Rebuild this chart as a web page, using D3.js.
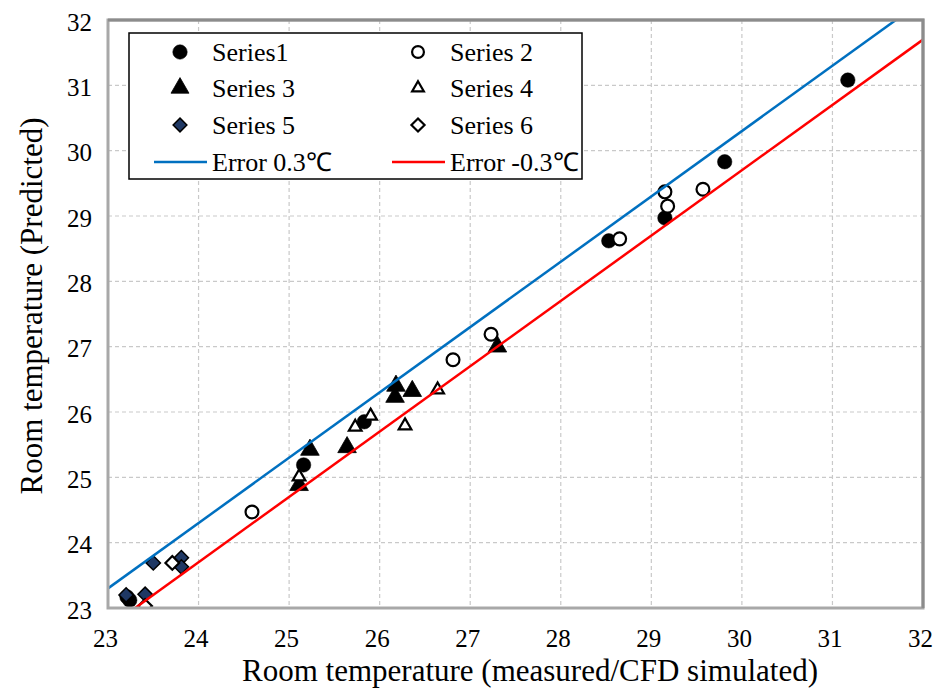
<!DOCTYPE html>
<html><head><meta charset="utf-8">
<script src="https://cdn.jsdelivr.net/npm/d3@7"></script>
<style>body{margin:0;background:#fff;}svg{display:block;font-family:"Liberation Serif","Times New Roman",serif;}</style>
</head><body>
<svg id="chart" width="936" height="689"></svg>
<script>
// ---- data ----
const xTicks = [23,24,25,26,27,28,29,30,31,32];
const yTicks = [23,24,25,26,27,28,29,30,31,32];
const series1 = [[23.21,23.17],[23.24,23.12],[25.16,25.19],[25.83,25.85],[28.53,28.62],[29.15,28.97],[29.81,29.83],[31.17,31.08]];
const series2 = [[24.59,24.47],[26.81,26.80],[27.23,27.19],[28.65,28.65],[29.15,29.37],[29.18,29.15],[29.57,29.41]];
const series3 = [[25.23,25.42],[25.11,24.88],[25.64,25.46],[26.18,26.40],[26.17,26.23],[26.36,26.32],[27.30,27.00]];
const series4 = [[25.11,25.01],[25.73,25.77],[25.90,25.94],[26.28,25.79],[26.64,26.34]];
const series5 = [[23.50,23.69],[23.81,23.77],[23.81,23.63],[23.41,23.21],[23.20,23.20]];
const series6 = [[23.71,23.69],[23.41,23.03]];
const errorOffsets = [0.3, -0.3];
const legendLabels = ["Series1","Series 2","Series 3","Series 4","Series 5","Series 6","Error 0.3\u2103","Error -0.3\u2103"];
const xTitle = "Room temperature (measured/CFD simulated)";
const yTitle = "Room temperature (Predicted)";

// ---- layout ----
const svg = d3.select("#chart");
const L = 108, R = 923, T = 20, B = 608;
const x = d3.scaleLinear().domain([23,32]).range([L,R]);
const y = d3.scaleLinear().domain([23,32]).range([B,T]);

svg.append("defs").append("clipPath").attr("id","clip")
  .append("rect").attr("x",L).attr("y",T).attr("width",R-L).attr("height",B-T);

// grid
const grid = svg.append("g");
grid.selectAll("line.v").data(xTicks.slice(1,-1)).join("line")
  .attr("x1",d=>x(d)).attr("x2",d=>x(d)).attr("y1",T).attr("y2",B)
  .attr("stroke","#c9c9c9").attr("stroke-width",1.2).attr("stroke-dasharray","4,3");
grid.selectAll("line.h").data(yTicks.slice(1,-1)).join("line")
  .attr("y1",d=>y(d)).attr("y2",d=>y(d)).attr("x1",L).attr("x2",R)
  .attr("stroke","#c9c9c9").attr("stroke-width",1.2).attr("stroke-dasharray","4,3");

// axes (tick labels via d3 axes)
const xAxis = svg.append("g").attr("transform",`translate(-3,${B})`)
  .call(d3.axisBottom(x).tickValues(xTicks).tickSize(0).tickPadding(21).tickFormat(d3.format("d")));
const yAxis = svg.append("g").attr("transform",`translate(${L},2)`)
  .call(d3.axisLeft(y).tickValues(yTicks).tickSize(0).tickPadding(16).tickFormat(d3.format("d")));
[xAxis,yAxis].forEach(a=>{
  a.attr("font-family",null).attr("font-size",null);
  a.select(".domain").remove();
  a.selectAll("text").attr("font-family","Liberation Serif").attr("font-size",25).attr("fill","#000");
});

// markers
const plot = svg.append("g").attr("clip-path","url(#clip)");
const sym = (type,size)=>d3.symbol().type(type).size(size)();
function drawSeries(data, path, fill, stroke, sw){
  plot.append("g").selectAll("path").data(data).join("path")
    .attr("d",path).attr("transform",d=>`translate(${x(d[0])},${y(d[1])})`)
    .attr("fill",fill).attr("stroke",stroke).attr("stroke-width",sw);
}
drawSeries(series1, sym(d3.symbolCircle,165), "#000", "#000", 0.5);
drawSeries(series2, sym(d3.symbolCircle,130), "#fff", "#000", 2.2);
drawSeries(series3, sym(d3.symbolTriangle,150), "#000", "#000", 0.8);
drawSeries(series4, sym(d3.symbolTriangle,70), "#fff", "#000", 2.2);
drawSeries(series5, sym(d3.symbolDiamond2,130), "#1f3864", "#000", 1.5);
drawSeries(series6, sym(d3.symbolDiamond2,120), "#fff", "#000", 2.2);

// error lines
const errColors = ["#0070c0","#ff0000"];
const line = d3.line().x(d=>x(d[0])).y(d=>y(d[1]));
errorOffsets.forEach((o,i)=>{
  plot.append("path").datum([[23,23+o],[32,32+o]]).attr("d",line)
    .attr("fill","none").attr("stroke",errColors[i]).attr("stroke-width",2.5);
});

// frame
svg.append("rect").attr("x",L).attr("y",T).attr("width",R-L).attr("height",B-T)
  .attr("fill","none").attr("stroke","#a8a8a8").attr("stroke-width",3);
svg.append("path").attr("d",`M${L},${T} H${R} V${B}`).attr("fill","none").attr("stroke","#8c8c8c").attr("stroke-width",3);

// legend
const lg = svg.append("g");
lg.append("rect").attr("x",129).attr("y",33).attr("width",453).attr("height",146)
  .attr("fill","#fff").attr("stroke","#000").attr("stroke-width",1.5);
const rowsY = [52,88,125,162];
const colMx = [180,418], colTx = [212,450];
const legendMarks = [
  [sym(d3.symbolCircle,165),"#000","#000",0.5],
  [sym(d3.symbolCircle,110),"#fff","#000",2.2],
  [sym(d3.symbolTriangle,140),"#000","#000",0.8],
  [sym(d3.symbolTriangle,60),"#fff","#000",2.2],
  [sym(d3.symbolDiamond2,120),"#1f3864","#000",1.5],
  [sym(d3.symbolDiamond2,110),"#fff","#000",2.2]
];
legendLabels.forEach((lab,i)=>{
  const r = Math.floor(i/2), c = i%2;
  const cy = rowsY[r];
  if(i<6){
    const m = legendMarks[i];
    lg.append("path").attr("d",m[0]).attr("transform",`translate(${colMx[c]},${cy})`)
      .attr("fill",m[1]).attr("stroke",m[2]).attr("stroke-width",m[3]);
  } else {
    lg.append("line").attr("x1",colMx[c]-26).attr("x2",colMx[c]+27).attr("y1",cy).attr("y2",cy)
      .attr("stroke",errColors[i-6]).attr("stroke-width",2.5);
  }
  lg.append("text").attr("x",colTx[c]).attr("y",cy).attr("dy","0.35em")
    .attr("font-size",26).attr("fill","#000").text(lab);
});

// titles
svg.append("text").attr("x",530).attr("y",681).attr("text-anchor","middle")
  .attr("font-size",31).attr("fill","#000").text(xTitle);
svg.append("text").attr("transform","translate(42,306) rotate(-90)").attr("text-anchor","middle")
  .attr("font-size",31).attr("fill","#000").text(yTitle);
</script>
</body></html>
